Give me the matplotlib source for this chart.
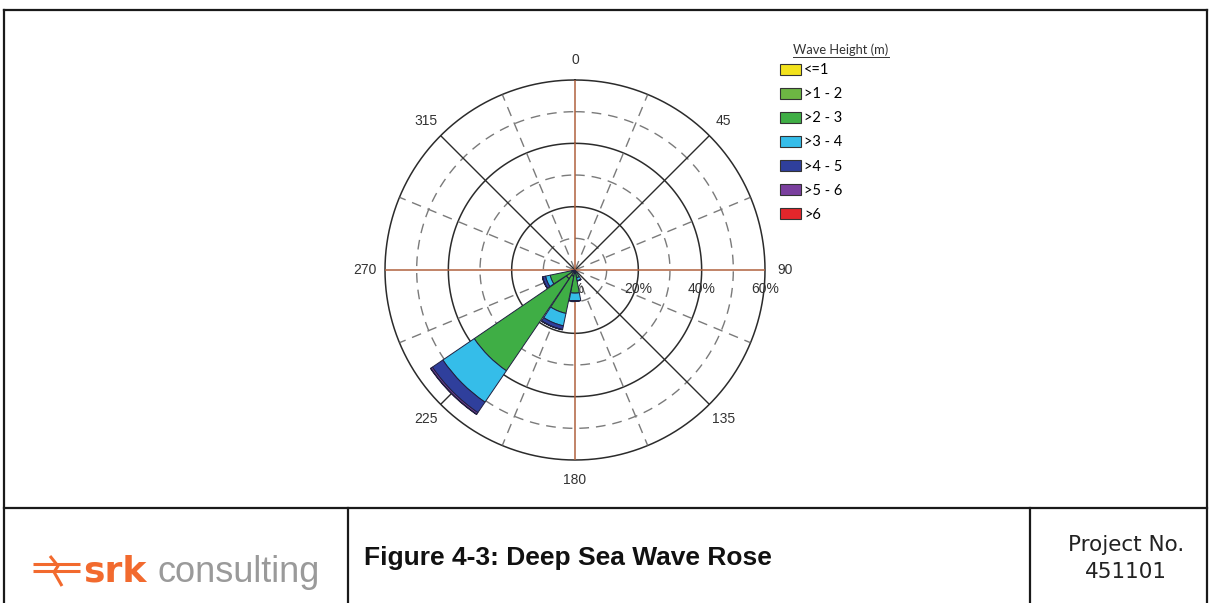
import numpy as np
import matplotlib
matplotlib.use("Agg")
import matplotlib.pyplot as plt
from matplotlib.lines import Line2D
from matplotlib.patches import Patch
from matplotlib.transforms import offset_copy

# Directions (degrees, clockwise from North) and frequency (%) per wave-height class
directions = np.arange(0, 360, 22.5)
classes = ["<=1", ">1 - 2", ">2 - 3", ">3 - 4", ">4 - 5", ">5 - 6", ">6"]
colors = ["#f2e21c", "#6db643", "#3fae45", "#35bde9", "#2f3f9c", "#7a3f9e", "#e3262b"]

#                 0  22.5 45 67.5 90 112.5 135 157.5 180 202.5 225 247.5 270 292.5 315 337.5
h_le1  = np.array([0, 0, 0, 0, 0, 0, 0, 0.0, 0.0, 0.0, 0.3, 0.0, 0, 0, 0, 0])
h_1_2  = np.array([0, 0, 0, 0, 0, 0, 0, 0.5, 1.0, 2.0, 3.0, 1.0, 0, 0, 0, 0])
h_2_3  = np.array([0, 0, 0, 0, 0, 0, 0, 2.0, 6.3, 12.0, 35.2, 7.0, 0, 0, 0, 0])
h_3_4  = np.array([0, 0, 0, 0, 0, 0, 0, 1.0, 2.5, 4.0, 12.0, 1.5, 0, 0, 0, 0])
h_4_5  = np.array([0, 0, 0, 0, 0, 0, 0, 0.0, 0.0, 1.2, 4.0, 1.0, 0, 0, 0, 0])
h_5_6  = np.array([0, 0, 0, 0, 0, 0, 0, 0.0, 0.0, 0.1, 0.6, 0.0, 0, 0, 0, 0])
h_gt6  = np.array([0, 0, 0, 0, 0, 0, 0, 0.0, 0.0, 0.0, 0.15, 0.0, 0, 0, 0, 0])
series = [h_le1, h_1_2, h_2_3, h_3_4, h_4_5, h_5_6, h_gt6]

solid_rings = [20, 40, 60]
dashed_rings = [10, 30, 50]
ring_labels = [0, 20, 40, 60]
angle_ticks = [0, 45, 90, 135, 180, 225, 270, 315]

W, H = 1212, 603
fig = plt.figure(figsize=(W / 100, H / 100), dpi=100)
fig.patch.set_facecolor("white")


def fx(x):
    return x / W


def fy(y):
    return 1 - y / H


# polar axes: centre (575, 270), 60% ring radius 190 px
ax = fig.add_axes([fx(385), fy(460), 380 / W, 380 / H], projection="polar")
ax.set_theta_zero_location("N")
ax.set_theta_direction(-1)
ax.set_ylim(0, 60)
ax.set_yticks([])
ax.grid(False)
ax.spines["polar"].set_visible(False)
ax.patch.set_alpha(0)

theta_full = np.linspace(0, 2 * np.pi, 361)
for r in solid_rings:
    ax.plot(theta_full, np.full_like(theta_full, r), color="#2b2b2b", lw=1.1,
            zorder=1, clip_on=False)
for r in dashed_rings:
    ax.plot(theta_full, np.full_like(theta_full, r), color="#7a7a7a", lw=1.0,
            dashes=(7, 5), zorder=1)

for a in np.arange(22.5, 360, 45):
    ax.plot([np.deg2rad(a)] * 2, [0, 60], color="#7a7a7a", lw=1.0, dashes=(7, 5), zorder=1)
for a in [45, 135, 225, 315]:
    ax.plot([np.deg2rad(a)] * 2, [0, 60], color="#2b2b2b", lw=1.0, zorder=1)
for a in [0, 90, 180, 270]:
    ax.plot([np.deg2rad(a)] * 2, [0, 60], color="#b0623e", lw=1.1, zorder=1)

ax.set_xticks(np.deg2rad(angle_ticks))
ax.set_xticklabels([str(a) for a in angle_ticks], fontsize=10, color="#333333",
                   family="Liberation Sans")
ax.tick_params(axis="x", pad=4)

# ring percentage labels just below the East axis
lab_tr = offset_copy(ax.transData, fig=fig, x=0, y=-19, units="dots")
for r in ring_labels:
    ax.text(np.deg2rad(90), r, f"{r}%", transform=lab_tr, ha="center", va="center",
            fontsize=10, color="#333333", family="Liberation Sans", zorder=2)

# stacked sectors
theta = np.deg2rad(directions)
width = np.deg2rad(21.5)
bottom = np.zeros(len(directions))
for vals, c in zip(series, colors):
    ax.bar(theta, vals, width=width, bottom=bottom, color=c, edgecolor="#202040",
           linewidth=0.7, zorder=3)
    bottom = bottom + vals

# legend
handles = [Patch(facecolor=c, edgecolor="#333333", linewidth=0.8) for c in colors]
fig.legend(handles, classes, loc="upper left", bbox_to_anchor=(fx(773), fy(56)),
           frameon=False, handlelength=1.45, handleheight=0.8,
           handletextpad=0.2, labelspacing=0.69, borderpad=0,
           prop={"family": "Lato", "size": 10.5})
fig.text(fx(793), fy(50), "Wave Height (m)", fontsize=9.3, color="#333333",
         family="Lato", va="center")
fig.add_artist(Line2D([fx(793), fx(889)], [fy(57), fy(57)], color="#333333", lw=0.7,
                      transform=fig.transFigure))

# page frame
frame = dict(color="#1a1a1a", lw=1.6, transform=fig.transFigure)
fig.add_artist(Line2D([fx(4), fx(1207)], [fy(10), fy(10)], **frame))
fig.add_artist(Line2D([fx(4), fx(4)], [fy(10), fy(603)], **frame))
fig.add_artist(Line2D([fx(1207), fx(1207)], [fy(10), fy(603)], **frame))
fig.add_artist(Line2D([fx(4), fx(1207)], [fy(508), fy(508)], **frame))
fig.add_artist(Line2D([fx(348), fx(348)], [fy(508), fy(603)], **frame))
fig.add_artist(Line2D([fx(1030), fx(1030)], [fy(508), fy(603)], **frame))

# company logo
orange = "#f26a2e"
logo = dict(color=orange, lw=2.2, transform=fig.transFigure, solid_capstyle="butt")
fig.add_artist(Line2D([fx(33), fx(80)], [fy(564), fy(564)], **logo))
fig.add_artist(Line2D([fx(33), fx(80)], [fy(571), fy(571)], **logo))
fig.add_artist(Line2D([fx(50), fx(58), fx(54), fx(62)],
                      [fy(556), fy(566), fy(572), fy(586)], **logo))
fig.text(fx(83), fy(571), "srk", fontsize=26, fontweight="bold", color=orange,
         family="DejaVu Sans", va="center")
fig.text(fx(157), fy(572), "consulting", fontsize=26, color="#9a9a9a",
         family="Liberation Sans", va="center")

fig.text(fx(364), fy(558), "Figure 4-3: Deep Sea Wave Rose", fontsize=19,
         fontweight="bold", color="#111111", family="Liberation Sans", va="center")
fig.text(fx(1126), fy(545), "Project No.", fontsize=15.5, color="#222222",
         family="DejaVu Sans", ha="center", va="center")
fig.text(fx(1126), fy(572), "451101", fontsize=15.5, color="#222222",
         family="DejaVu Sans", ha="center", va="center")

fig.savefig("out.png", dpi=100)
